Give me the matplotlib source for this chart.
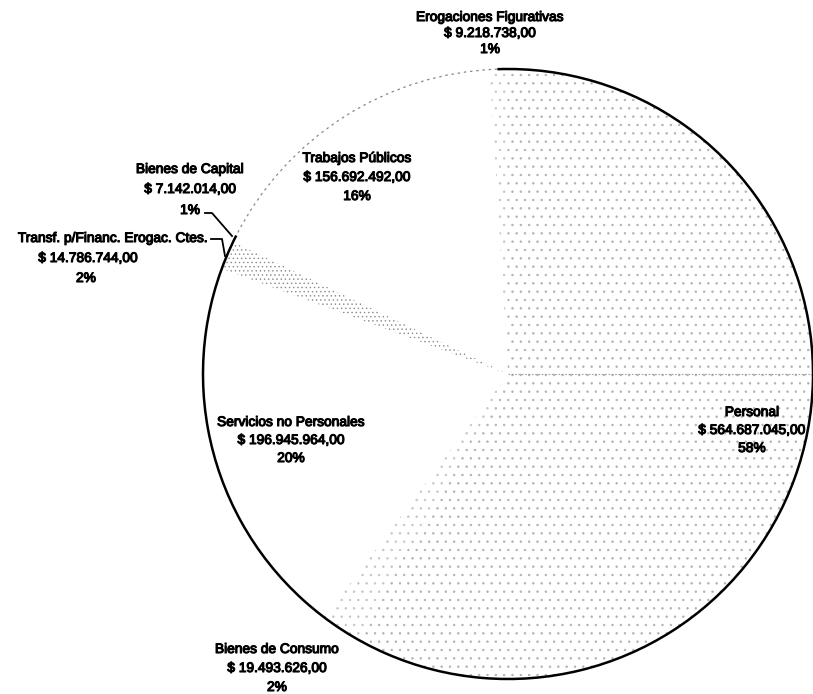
import matplotlib
matplotlib.use("Agg")
import matplotlib.pyplot as plt
from matplotlib.patches import Arc
import matplotlib.patheffects as pe

# presupuesto por inciso
categorias = [
    "Personal",
    "Bienes de Consumo",
    "Servicios no Personales",
    "Transf. p/Financ. Erogac. Ctes.",
    "Bienes de Capital",
    "Trabajos Públicos",
    "Erogaciones Figurativas",
]
montos = [564687045.00, 19493626.00, 196945964.00, 14786744.00,
          7142014.00, 156692492.00, 9218738.00]
montos_txt = ["$ 564.687.045,00", "$ 19.493.626,00", "$ 196.945.964,00",
              "$ 14.786.744,00", "$ 7.142.014,00", "$ 156.692.492,00",
              "$ 9.218.738,00"]
porcentajes = ["58%", "2%", "20%", "2%", "1%", "16%", "1%"]

W, H = 813, 694
CX, CY, R = 508, H - 374, 305

fig = plt.figure(figsize=(W / 100, H / 100), dpi=100)
ax = fig.add_axes([0, 0, 1, 1])

plt.rcParams["hatch.linewidth"] = 0.5

hatches = ["..", "..", None, "....", None, None, ".."]
hatch_cols = ["#b0b0b0", "#c4c4c4", None, "#8a8a8a", None, None, "#c4c4c4"]

wedges, _ = ax.pie(montos, startangle=90, counterclock=False,
                   center=(CX, CY), radius=R, colors=["white"] * 7,
                   wedgeprops=dict(linewidth=0), frame=True)
for w, h, hc in zip(wedges, hatches, hatch_cols):
    if h:
        w.set_hatch(h)
        w.set_edgecolor(hc)
        w.set_linewidth(0)
ax.set_xlim(0, W)
ax.set_ylim(0, H)
ax.set_aspect("equal")
ax.axis("off")

# contorno: tramo firme y tramo tenue (arriba a la izquierda)
ax.add_patch(Arc((CX, CY), 2 * R, 2 * R, theta1=153, theta2=452,
                 color="black", lw=1.8, zorder=4))
ax.add_patch(Arc((CX, CY), 2 * R, 2 * R, theta1=92, theta2=153,
                 color="#888888", lw=0.9, ls=(0, (2, 3)), zorder=4))
# línea horizontal tenue del escaneo
ax.plot([CX, CX + R], [CY, CY], color="#a0a0a0", lw=0.8,
        ls=(0, (1.5, 1.5)), zorder=3)

txt = dict(fontsize=9.9, family="Liberation Sans", ha="center",
           va="center", color="black", zorder=6,
           path_effects=[pe.withStroke(linewidth=0.8, foreground="black")])

# posiciones de las etiquetas (x, y de cada renglón)
etq = {
    "Erogaciones Figurativas": (490, [17, 33, 49]),
    "Trabajos Públicos": (357, [158, 177, 196]),
    "Bienes de Capital": (190, [169, 189, 210]),
    "Servicios no Personales": (291, [422, 440, 458]),
    "Personal": (752, [412, 430, 448]),
    "Bienes de Consumo": (277, [649, 668, 687]),
}
for cat, monto, pct in zip(categorias, montos_txt, porcentajes):
    if cat in etq:
        x, ys = etq[cat]
        for s, y in zip([cat, monto, pct], ys):
            ax.text(x, H - y, s, **txt)

# Transf.: primer renglón alineado a la derecha, junto a la guía
i = categorias.index("Transf. p/Financ. Erogac. Ctes.")
ax.text(208, H - 238, categorias[i], **{**txt, "ha": "right"})
ax.text(88, H - 258, montos_txt[i], **txt)
ax.text(86, H - 278, porcentajes[i], **txt)

# líneas guía
ax.plot([205, 212, 232], [H - 213, H - 213, H - 236], color="black",
        lw=1.3, zorder=5)
ax.plot([211, 222, 225], [H - 239, H - 239, H - 256], color="black",
        lw=1.3, zorder=5)

fig.savefig("out.png", dpi=100, facecolor="white")
